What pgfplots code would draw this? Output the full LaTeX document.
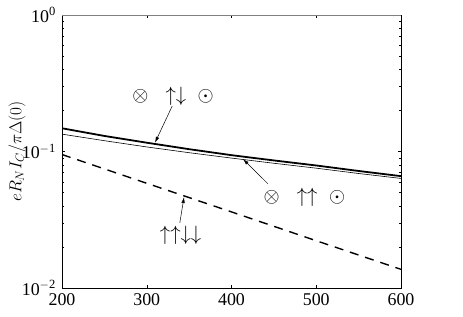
\documentclass[border=0pt]{standalone}
\usepackage{fontspec}
\setmainfont{Liberation Serif}
\usepackage{pgfplots}
\pgfplotsset{compat=1.18}
\usetikzlibrary{arrows.meta}
\begin{document}
\fontsize{18}{22}\selectfont
\begin{tikzpicture}
\begin{axis}[
  scale only axis,
  width=339bp, height=273bp,
  xmin=200, xmax=600,
  ymode=log, ymin=0.01, ymax=1,
  xtick={200,300,400,500,600},
  ytick={0.01,0.1,1},
  yticklabels={10\textsuperscript{$-$2},10\textsuperscript{$-$1},10\textsuperscript{0}},
  /pgf/number format/assume math mode=true,
  /pgf/number format/1000 sep={},
  tick align=inside,
  major tick length=3bp,
  minor tick length=2bp,
  tick style={black, line width=0.4pt},
  axis line style={line width=0.8pt},
  ticklabel style={font=\fontsize{18}{22}\selectfont},
  xticklabel style={yshift=1bp},
  yticklabel style={xshift=0bp},
  ylabel={$eR_NI_C/\pi\Delta(0)$},
  ylabel style={font=\fontsize{18}{22}\selectfont, yshift=-16bp},
  clip=true,
]
% thick solid
\addplot[black, line width=1.8pt] coordinates {
(200,0.148) (250,0.130) (300,0.116) (350,0.104) (400,0.094) (450,0.086) (500,0.079) (550,0.072) (600,0.066)};
% thin solid
\addplot[black, line width=0.6pt] coordinates {
(200,0.134) (250,0.120) (300,0.108) (350,0.098) (400,0.0895) (450,0.082) (500,0.0755) (550,0.069) (600,0.0635)};
% dashed
\addplot[black, line width=1.4pt, dash pattern=on 9bp off 7bp] coordinates {
(200,0.095) (300,0.0585) (400,0.0361) (500,0.0222) (600,0.0137)};
\draw[gray, line width=0.8pt] (rel axis cs:0,1) -- (rel axis cs:1,1);
% annotations
\draw[-{Latex[length=6bp,width=3.5bp]}, line width=0.5pt] (axis cs:330,0.215) -- (axis cs:309.7,0.116);
\node at (axis cs:331,0.255) {\fontsize{21}{24}\selectfont$\otimes\;\;\uparrow\downarrow\;\odot$};
\draw[-{Latex[length=6bp,width=3.5bp]}, line width=0.5pt] (axis cs:443,0.0580) -- (axis cs:413.6,0.0880);
\node at (axis cs:486,0.0464) {\fontsize{21}{24}\selectfont$\otimes\;\;\uparrow\uparrow\;\odot$};
\draw[-{Latex[length=6bp,width=3.5bp]}, line width=0.5pt] (axis cs:339,0.0300) -- (axis cs:344,0.0464);
\node at (axis cs:340,0.0244) {\fontsize{21}{24}\selectfont$\uparrow\uparrow\downarrow\downarrow$};
\node[anchor=base] at (axis cs:547,0.0068) {$2dk_F$};
\end{axis}
\pgfresetboundingbox
\path (current axis.south west) ++(-62bp,-29bp) rectangle ++(463bp,317bp);
\end{tikzpicture}
\end{document}
